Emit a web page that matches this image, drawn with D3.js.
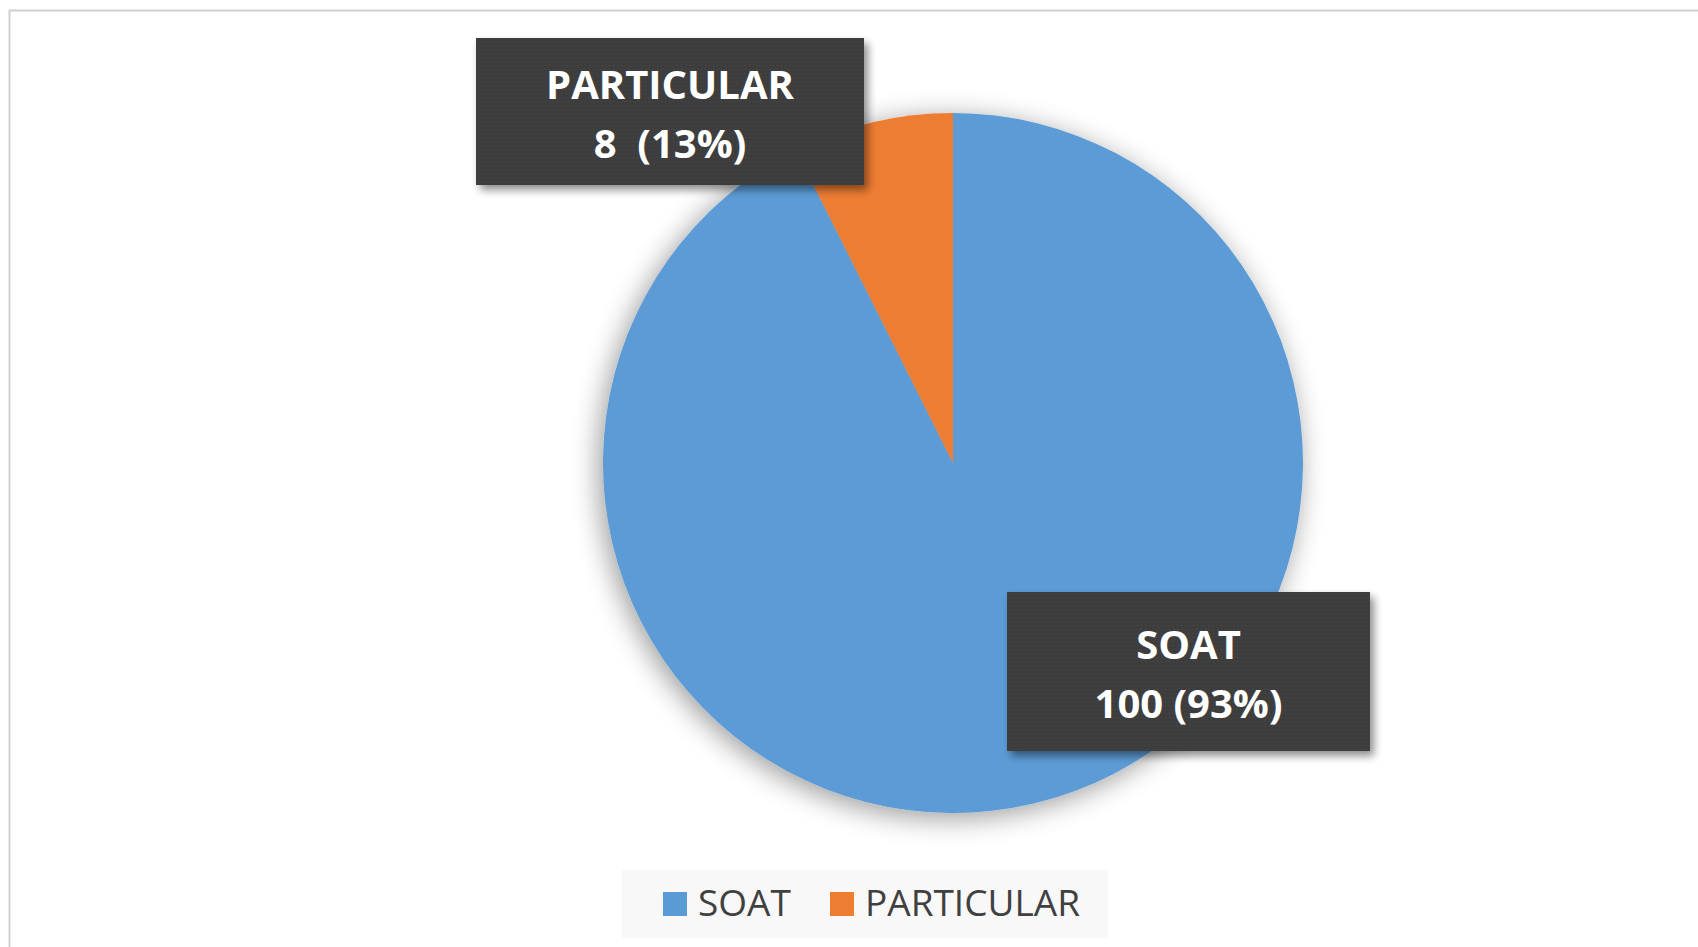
<!DOCTYPE html>
<html>
<head>
<meta charset="utf-8">
<script src="https://cdn.jsdelivr.net/npm/d3@7"></script>
<style>
  html, body { margin: 0; padding: 0; background: #fff; }
  svg { display: block; }
</style>
</head>
<body>
<svg id="chart" width="1698" height="947"></svg>
<script>
// ---- data ----
const categories = ["SOAT", "PARTICULAR"];
const values = [100, 8];
const labelLine1 = ["SOAT", "PARTICULAR"];
const labelLine2 = ["100 (93%)", "8  (13%)"];
const colors = ["#5B9BD5", "#ED7D31"];

// ---- layout ----
const W = 1698, H = 947;
const cx = 953, cy = 463, R = 350;
const svg = d3.select("#chart");

const defs = svg.append("defs");
const shadow = defs.append("filter").attr("id", "pieShadow")
  .attr("x", "-20%").attr("y", "-20%").attr("width", "140%").attr("height", "140%");
shadow.append("feGaussianBlur").attr("in", "SourceAlpha").attr("stdDeviation", 14).attr("result", "b");
shadow.append("feOffset").attr("in", "b").attr("dx", -4).attr("dy", 5).attr("result", "o");
shadow.append("feComponentTransfer").attr("in", "o").attr("result", "s")
  .append("feFuncA").attr("type", "linear").attr("slope", 0.4);
const m1 = shadow.append("feMerge");
m1.append("feMergeNode").attr("in", "s");
m1.append("feMergeNode").attr("in", "SourceGraphic");

const boxShadow = defs.append("filter").attr("id", "boxShadow")
  .attr("x", "-10%").attr("y", "-10%").attr("width", "125%").attr("height", "130%");
boxShadow.append("feGaussianBlur").attr("in", "SourceAlpha").attr("stdDeviation", 4).attr("result", "b");
boxShadow.append("feOffset").attr("in", "b").attr("dx", 4).attr("dy", 5).attr("result", "o");
boxShadow.append("feComponentTransfer").attr("in", "o").attr("result", "s")
  .append("feFuncA").attr("type", "linear").attr("slope", 0.45);
const m2 = boxShadow.append("feMerge");
m2.append("feMergeNode").attr("in", "s");
m2.append("feMergeNode").attr("in", "SourceGraphic");

const pat = defs.append("pattern").attr("id", "dots")
  .attr("width", 4).attr("height", 4).attr("patternUnits", "userSpaceOnUse");
pat.append("rect").attr("width", 4).attr("height", 4).attr("fill", "#3e3e3e");
pat.append("rect").attr("x", 1).attr("y", 1).attr("width", 1).attr("height", 1).attr("fill", "#4c4c4c");

// frame
svg.append("path")
  .attr("d", `M9.5,${H} L9.5,10.5 L${W},10.5`)
  .attr("fill", "none").attr("stroke", "#d0d0d0").attr("stroke-width", 2);

// pie
const pie = d3.pie().sort(null).value(d => d);
const arcs = pie(values);
const arc = d3.arc().innerRadius(0).outerRadius(R);

const pg = svg.append("g").attr("transform", `translate(${cx},${cy})`).attr("filter", "url(#pieShadow)");
pg.selectAll("path").data(arcs).join("path")
  .attr("d", arc)
  .attr("fill", (d, i) => colors[i]);

// data labels
const boxes = [
  { x: 1007, y: 592, w: 363, h: 159 },
  { x: 476, y: 38, w: 388, h: 147 }
];
const lg = svg.append("g");
arcs.forEach((d, i) => {
  const b = boxes[i];
  const g = lg.append("g");
  g.append("rect").attr("x", b.x).attr("y", b.y).attr("width", b.w).attr("height", b.h)
    .attr("fill", "url(#dots)").attr("filter", "url(#boxShadow)");
  const tx = b.x + b.w / 2;
  const mid = b.y + b.h / 2;
  g.append("text").attr("x", tx).attr("y", mid - 13)
    .attr("text-anchor", "middle")
    .attr("font-family", "'Open Sans', sans-serif").attr("font-weight", 700)
    .attr("font-size", 40).attr("fill", "#ffffff")
    .style("white-space", "pre")
    .text(labelLine1[i]);
  g.append("text").attr("x", tx).attr("y", mid + 46)
    .attr("text-anchor", "middle")
    .attr("font-family", "'Open Sans', sans-serif").attr("font-weight", 700)
    .attr("font-size", 40).attr("fill", "#ffffff")
    .style("white-space", "pre")
    .text(labelLine2[i]);
});

// legend
const legend = svg.append("g");
legend.append("rect").attr("x", 622).attr("y", 870).attr("width", 486).attr("height", 68).attr("fill", "#f8f8f8");
const legX = [663, 830];
categories.forEach((c, i) => {
  legend.append("rect").attr("x", legX[i]).attr("y", 892).attr("width", 24).attr("height", 24).attr("fill", colors[i]);
  legend.append("text").attr("x", legX[i] + 35).attr("y", 916)
    .attr("font-family", "'Open Sans', sans-serif").attr("font-size", 37)
    .attr("fill", "#404040").text(c);
});
</script>
</body>
</html>
